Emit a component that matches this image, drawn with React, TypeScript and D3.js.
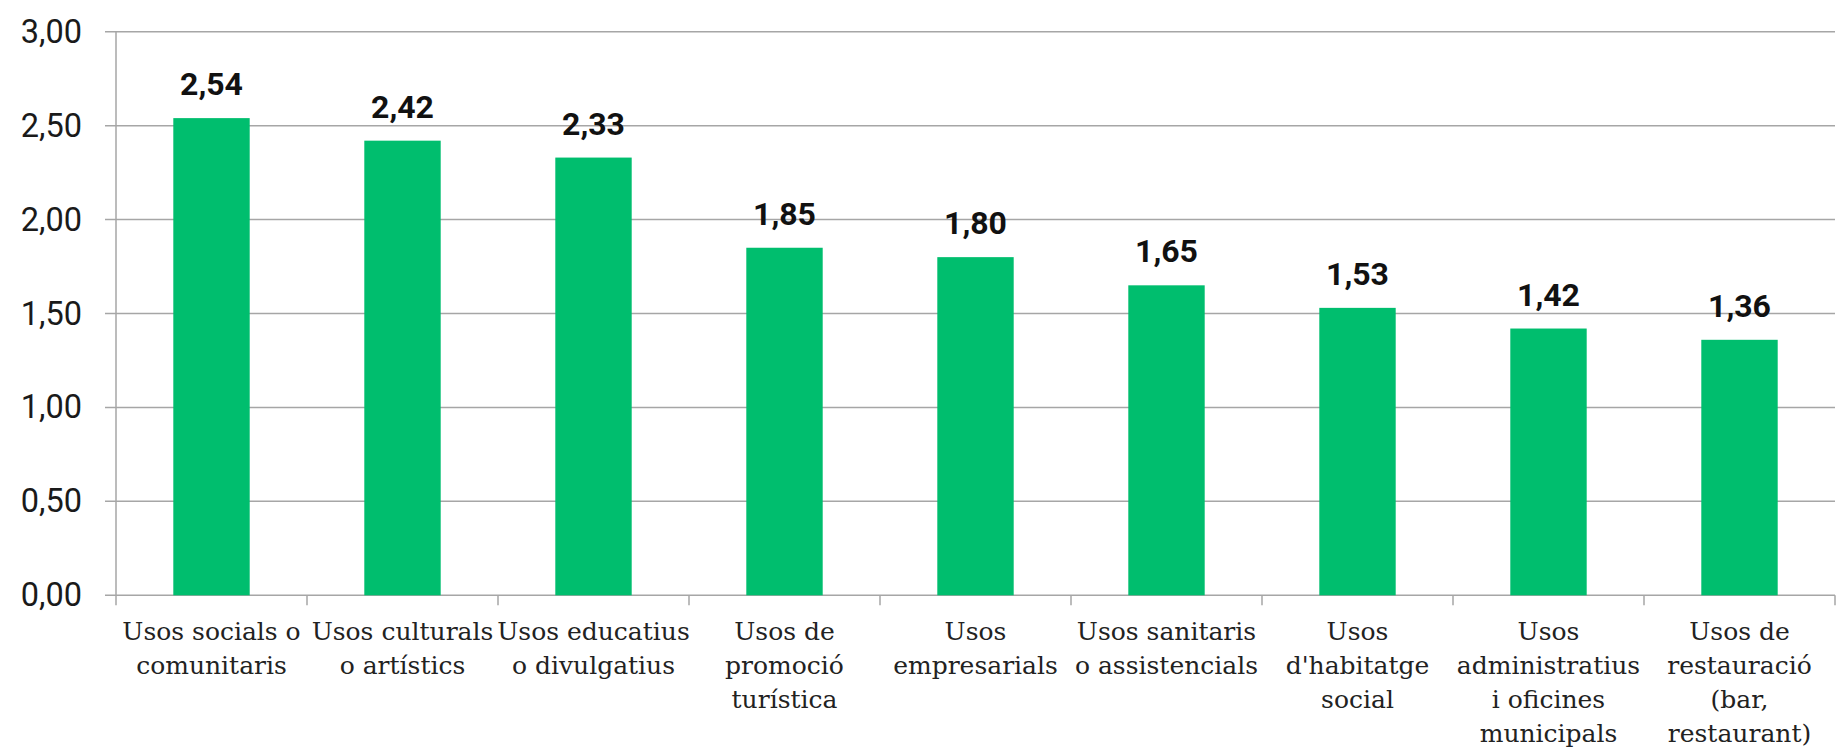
import React from "react";
import * as d3 from "d3";

const categories: string[][] = [
  ["Usos socials o", "comunitaris"],
  ["Usos culturals", "o artístics"],
  ["Usos educatius", "o divulgatius"],
  ["Usos de", "promoció", "turística"],
  ["Usos", "empresarials"],
  ["Usos sanitaris", "o assistencials"],
  ["Usos", "d'habitatge", "social"],
  ["Usos", "administratius", "i oficines", "municipals"],
  ["Usos de", "restauració", "(bar,", "restaurant)"],
];
const values: number[] = [2.54, 2.42, 2.33, 1.85, 1.8, 1.65, 1.53, 1.42, 1.36];
const yTicks: number[] = [0, 0.5, 1, 1.5, 2, 2.5, 3];

const W = 1841;
const H = 748;
const left = 116;
const right = 1835;
const top = 31.7;
const bottom = 595.3;

const fmt = (v: number) => v.toFixed(2).replace(".", ",");

export default function App() {
  const keys = categories.map((_, i) => String(i));
  const x = d3.scaleBand<string>().domain(keys).range([left, right]).paddingInner(0.6).paddingOuter(0.3);
  const y = d3.scaleLinear().domain([0, 3]).range([bottom, top]);
  const step = x.step();
  const gridColor = "#a6a6a6";
  return (
    <svg width={W} height={H} style={{ position: "absolute", left: 0, top: 0, background: "#fff" }}>
      {yTicks.map((t) => (
        <g key={t}>
          <line x1={left - 11} x2={right} y1={y(t)} y2={y(t)} stroke={gridColor} strokeWidth={1.5} />
          <text
            x={82}
            y={y(t)}
            textAnchor="end"
            dominantBaseline="central"
            fontFamily="Roboto"
            fontSize={32.5}
            fill="#1a1a1a"
          >
            {fmt(t)}
          </text>
        </g>
      ))}
      <line x1={left} x2={left} y1={y(3)} y2={bottom + 10} stroke={gridColor} strokeWidth={1.5} />
      {keys.map((k, i) => (
        <line
          key={"t" + k}
          x1={left + (i + 1) * step}
          x2={left + (i + 1) * step}
          y1={bottom}
          y2={bottom + 10}
          stroke={gridColor}
          strokeWidth={1.5}
        />
      ))}
      {values.map((v, i) => (
        <rect
          key={"b" + i}
          x={x(String(i))}
          y={y(v)}
          width={x.bandwidth()}
          height={y(0) - y(v)}
          fill="#00BE6E"
        />
      ))}
      {values.map((v, i) => (
        <text
          key={"v" + i}
          x={(x(String(i)) as number) + x.bandwidth() / 2}
          y={y(v) - 23}
          textAnchor="middle"
          fontFamily="Roboto"
          fontWeight={700}
          fontSize={32}
          fill="#111"
        >
          {fmt(v)}
        </text>
      ))}
      {categories.map((lines, i) => (
        <text
          key={"c" + i}
          x={(x(String(i)) as number) + x.bandwidth() / 2}
          textAnchor="middle"
          fontFamily="DejaVu Serif"
          fontSize={25}
          fill="#222"
        >
          {lines.map((ln, j) => (
            <tspan key={j} x={(x(String(i)) as number) + x.bandwidth() / 2} y={bottom + 44.7 + j * 34}>
              {ln}
            </tspan>
          ))}
        </text>
      ))}
    </svg>
  );
}
